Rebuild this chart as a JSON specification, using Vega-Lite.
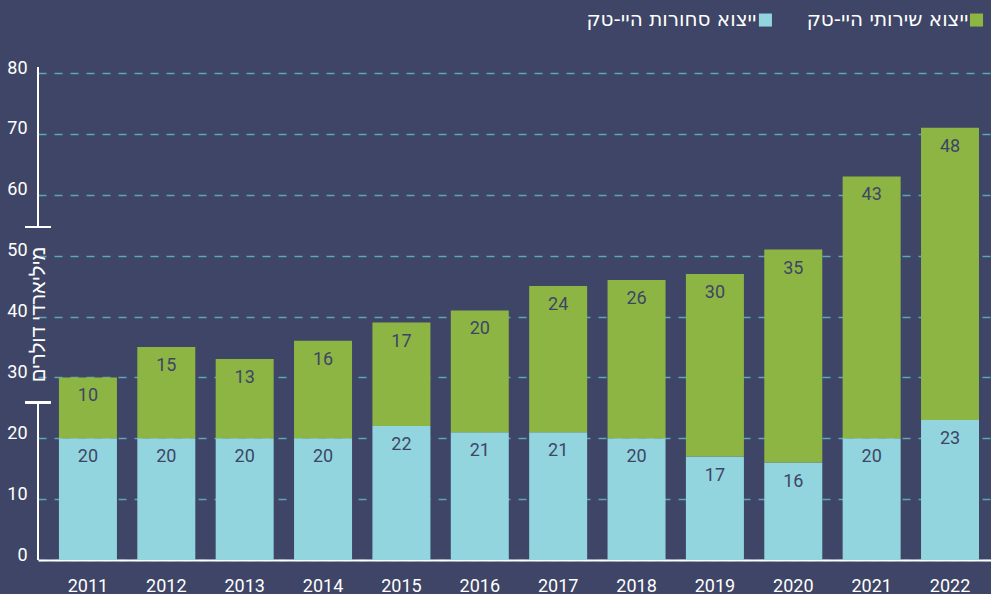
{
  "$schema": "https://vega.github.io/schema/vega-lite/v6.json",
  "width": 953,
  "height": 487,
  "autosize": {"type": "none"},
  "padding": {"left": 38, "top": 73, "right": 0, "bottom": 34},
  "background": "#3e4566",
  "config": {
    "view": {"stroke": null},
    "font": "Roboto, 'Open Sans', 'DejaVu Sans', sans-serif"
  },
  "data": {
    "values": [
      {"year": "2011", "cat": "ייצוא סחורות היי-טק", "k": 1, "v": 20},
      {"year": "2012", "cat": "ייצוא סחורות היי-טק", "k": 1, "v": 20},
      {"year": "2013", "cat": "ייצוא סחורות היי-טק", "k": 1, "v": 20},
      {"year": "2014", "cat": "ייצוא סחורות היי-טק", "k": 1, "v": 20},
      {"year": "2015", "cat": "ייצוא סחורות היי-טק", "k": 1, "v": 22},
      {"year": "2016", "cat": "ייצוא סחורות היי-טק", "k": 1, "v": 21},
      {"year": "2017", "cat": "ייצוא סחורות היי-טק", "k": 1, "v": 21},
      {"year": "2018", "cat": "ייצוא סחורות היי-טק", "k": 1, "v": 20},
      {"year": "2019", "cat": "ייצוא סחורות היי-טק", "k": 1, "v": 17},
      {"year": "2020", "cat": "ייצוא סחורות היי-טק", "k": 1, "v": 16},
      {"year": "2021", "cat": "ייצוא סחורות היי-טק", "k": 1, "v": 20},
      {"year": "2022", "cat": "ייצוא סחורות היי-טק", "k": 1, "v": 23},
      {"year": "2011", "cat": "ייצוא שירותי היי-טק", "k": 2, "v": 10},
      {"year": "2012", "cat": "ייצוא שירותי היי-טק", "k": 2, "v": 15},
      {"year": "2013", "cat": "ייצוא שירותי היי-טק", "k": 2, "v": 13},
      {"year": "2014", "cat": "ייצוא שירותי היי-טק", "k": 2, "v": 16},
      {"year": "2015", "cat": "ייצוא שירותי היי-טק", "k": 2, "v": 17},
      {"year": "2016", "cat": "ייצוא שירותי היי-טק", "k": 2, "v": 20},
      {"year": "2017", "cat": "ייצוא שירותי היי-טק", "k": 2, "v": 24},
      {"year": "2018", "cat": "ייצוא שירותי היי-טק", "k": 2, "v": 26},
      {"year": "2019", "cat": "ייצוא שירותי היי-טק", "k": 2, "v": 30},
      {"year": "2020", "cat": "ייצוא שירותי היי-טק", "k": 2, "v": 35},
      {"year": "2021", "cat": "ייצוא שירותי היי-טק", "k": 2, "v": 43},
      {"year": "2022", "cat": "ייצוא שירותי היי-טק", "k": 2, "v": 48}
    ]
  },
  "layer": [
    {
      "mark": {"type": "bar"},
      "encoding": {
        "x": {
          "field": "year",
          "type": "ordinal",
          "scale": {"paddingInner": 0.26, "paddingOuter": 0.21, "align": 0.636},
          "axis": {
            "title": null,
            "domainColor": "white",
            "domainWidth": 2,
            "ticks": false,
            "labelAngle": 0,
            "labelColor": "white",
            "labelFontSize": 18,
            "labelPadding": 17
          }
        },
        "y": {
          "field": "v",
          "type": "quantitative",
          "stack": "zero",
          "scale": {"domain": [0, 80], "nice": false},
          "axis": {
            "values": [0, 10, 20, 30, 40, 50, 60, 70, 80],
            "domain": false,
            "ticks": false,
            "grid": true,
            "gridColor": "#5ba7b7",
            "gridDash": [8, 8],
            "gridWidth": 1.5,
            "labelColor": "white",
            "labelFontSize": 18,
            "labelPadding": 11,
            "labelOffset": -5,
            "title": "מיליארדי דולרים",
            "titleColor": "white",
            "titleFont": "Liberation Sans",
            "titleFontSize": 20,
            "titleFontWeight": "normal",
            "titleAngle": -90,
            "titleAlign": "center",
            "titleBaseline": "middle",
            "titleX": 0,
            "titleY": 241
          }
        },
        "color": {
          "field": "cat",
          "type": "nominal",
          "scale": {
            "domain": ["ייצוא סחורות היי-טק", "ייצוא שירותי היי-טק"],
            "range": ["#92d5df", "#8db544"]
          },
          "legend": null
        },
        "order": {"field": "k", "type": "quantitative"}
      }
    },
    {
      "mark": {"type": "text", "baseline": "middle", "dy": 19, "color": "#3e4566", "fontSize": 18},
      "encoding": {
        "x": {"field": "year", "type": "ordinal"},
        "y": {"field": "v", "type": "quantitative", "stack": "zero"},
        "detail": {"field": "cat", "type": "nominal"},
        "order": {"field": "k", "type": "quantitative"},
        "text": {"field": "v", "type": "quantitative"}
      }
    },
    {
      "mark": {"type": "rule", "color": "white", "strokeWidth": 2},
      "encoding": {
        "x": {"value": 0},
        "y": {"datum": 0, "type": "quantitative"},
        "y2": {"datum": 25.9}
      }
    },
    {
      "mark": {"type": "rule", "color": "white", "strokeWidth": 2},
      "encoding": {
        "x": {"value": 0},
        "y": {"datum": 54.7, "type": "quantitative"},
        "y2": {"datum": 81}
      }
    },
    {
      "mark": {"type": "tick", "orient": "horizontal", "color": "white", "size": 25, "thickness": 2},
      "encoding": {
        "x": {"value": 0},
        "y": {"datum": 25.9, "type": "quantitative"}
      }
    },
    {
      "mark": {"type": "tick", "orient": "horizontal", "color": "white", "size": 25, "thickness": 2},
      "encoding": {
        "x": {"value": 0},
        "y": {"datum": 54.7, "type": "quantitative"}
      }
    },
    {
      "data": {"values": [{"cat": "ייצוא סחורות היי-טק"}]},
      "mark": {"type": "square", "size": 170, "opacity": 1},
      "encoding": {
        "x": {"datum": "2020", "type": "ordinal", "bandPosition": 0.02},
        "y": {"datum": 88.7, "type": "quantitative"},
        "color": {"field": "cat", "type": "nominal", "legend": null}
      }
    },
    {
      "data": {"values": [{"cat": "ייצוא סחורות היי-טק"}]},
      "mark": {"type": "text", "align": "center", "baseline": "middle", "dx": -94, "color": "white", "font": "DejaVu Sans", "fontSize": 20},
      "encoding": {
        "x": {"datum": "2020", "type": "ordinal", "bandPosition": 0.02},
        "y": {"datum": 88.7, "type": "quantitative"},
        "text": {"field": "cat", "type": "nominal"}
      }
    },
    {
      "data": {"values": [{"cat": "ייצוא שירותי היי-טק"}]},
      "mark": {"type": "square", "size": 170, "opacity": 1},
      "encoding": {
        "x": {"datum": "2022", "type": "ordinal", "bandPosition": 0.957},
        "y": {"datum": 88.7, "type": "quantitative"},
        "color": {"field": "cat", "type": "nominal", "legend": null}
      }
    },
    {
      "data": {"values": [{"cat": "ייצוא שירותי היי-טק"}]},
      "mark": {"type": "text", "align": "center", "baseline": "middle", "dx": -89, "color": "white", "font": "DejaVu Sans", "fontSize": 20},
      "encoding": {
        "x": {"datum": "2022", "type": "ordinal", "bandPosition": 0.957},
        "y": {"datum": 88.7, "type": "quantitative"},
        "text": {"field": "cat", "type": "nominal"}
      }
    }
  ]
}
